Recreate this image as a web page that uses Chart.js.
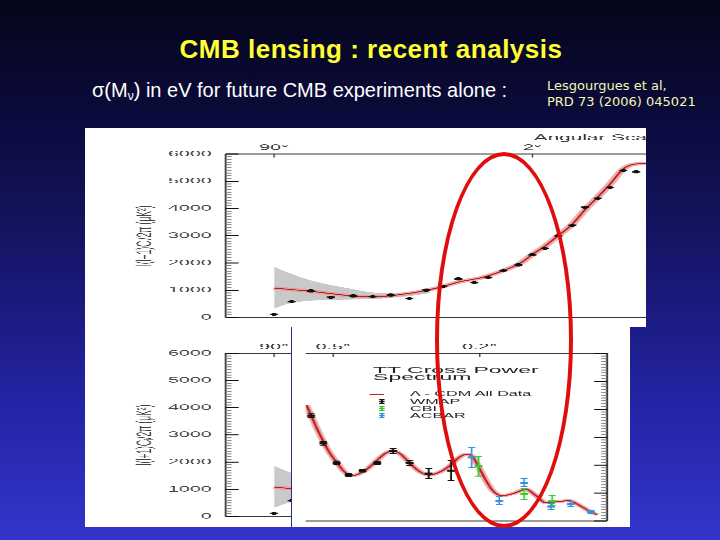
<!DOCTYPE html>
<html>
<head>
<meta charset="utf-8">
<script src="https://cdn.jsdelivr.net/npm/chart.js@4.4.1/dist/chart.umd.min.js"></script>
<style>
  html, body { margin: 0; padding: 0; }
  #slide { position: relative; width: 720px; height: 540px; overflow: hidden;
    background: linear-gradient(180deg, #05051a 0%, #0b0b3c 22%, #16166c 48%, #2424a6 75%, #3434cc 100%);
    font-family: 'Liberation Sans', Arial, sans-serif; }
  #title { position: absolute; left: 0; width: 742px; top: 34px; text-align: center; color: #ffff33;
    font-weight: bold; font-size: 26px; line-height: 30px; letter-spacing: 0.5px; white-space: nowrap; }
  #sub { position: absolute; left: 92px; top: 78px; color: #fff; font-size: 20px; line-height: 24px; white-space: nowrap; }
  #sub sub { font-size: 12px; vertical-align: -3px; }
  #ref { position: absolute; left: 547px; top: 78px; color: #f6f6b4; font-family: 'DejaVu Sans', sans-serif;
    font-size: 13px; line-height: 15.5px; white-space: nowrap; }
  .panel { position: absolute; background: #fff; overflow: hidden; }
  .stretch { position: absolute; left: 0; top: 0; transform: scaleX(2.45); transform-origin: 0 0; }
  #overlay { position: absolute; left: 206px; top: 0; width: 339px; height: 200px; background: #fff; overflow: hidden; }
  #bline { position: absolute; left: 206px; top: 0; width: 1px; height: 200px; background: #2c2c86; }
  #ellipse { position: absolute; left: 435px; top: 152px; width: 138px; height: 376px; box-sizing: border-box;
    border: 4px solid #e00d0d; border-radius: 50%; }
  .lg { position: absolute; font-family: 'Liberation Sans', Arial, sans-serif; color: #222; white-space: nowrap; }
  .lgTitle { font-size: 9.4px; line-height: 7.4px; }
  .lgText { font-size: 6.6px; line-height: 7.2px; }
</style>
</head>
<body>
<div id="slide">
  <div id="title">CMB lensing : recent analysis</div>
  <div id="sub">σ(M<sub>ν</sub>) in eV for future CMB experiments alone :</div>
  <div id="ref">Lesgourgues et al,<br>PRD 73 (2006) 045021</div>

  <div id="topPanel" class="panel" style="left:85px; top:128px; width:561px; height:199px;">
    <div class="stretch"><canvas id="c1" width="250" height="200"></canvas></div>
  </div>

  <div id="botPanel" class="panel" style="left:85px; top:327px; width:545px; height:200px;">
    <div class="stretch"><canvas id="c2" width="250" height="200"></canvas></div>
    <div id="overlay">
      <div class="stretch"><canvas id="c3" width="139" height="200"></canvas></div>
      <div class="stretch" id="legendBox" style="width:139px;height:200px;"></div>
    </div>
    <div id="bline"></div>
  </div>

  <div id="ellipse"></div>
</div>

<script>
// ---------------- data: low-l figure (top panel, also under the bottom panel) ----------------
const topTickVals = [12.1, 76.65];
const topTickLabels = ['90°', '2°'];
const yTickValues = [0, 1000, 2000, 3000, 4000, 5000, 6000];
const yTickLabels = ['0', '1000', '2000', '3000', '4000', '5000', '6000'];

const lowX = [12.1, 16.5, 21.3, 26.3, 31.9, 36.75, 41.25, 45.9, 50.1, 54.4, 58.15, 62.15, 65.65, 69.4, 73.15, 76.65, 79.8, 83.15, 86.65, 89.8, 93.0, 96.1, 99.4, 102.6];
const lowY = [115, 583, 977, 743, 792, 767, 826, 698, 1001, 1140, 1419, 1280, 1465, 1720, 1930, 2302, 2535, 3000, 3383, 4046, 4370, 4768, 5396, 5347];

const lowModelX = [12.1, 16.1, 21.1, 26.1, 31.1, 34.8, 38.6, 43.6, 48.6, 53.6, 58.6, 63.6, 68.6, 73.6, 76.8, 79.8, 83.1, 86.6, 89.8, 93.6, 96.1, 99.3, 101.8, 105, 108.6];
const lowModelY = [1081, 1030, 966, 880, 800, 765, 770, 840, 950, 1110, 1314, 1450, 1680, 1990, 2330, 2620, 3000, 3420, 3950, 4510, 4900, 5441, 5616, 5650, 5630];

const bandX = [12.1, 16.1, 21.1, 26.1, 31.1, 36.1, 41.1, 46.1, 51.1];
const bandHi = [1859, 1620, 1370, 1200, 1060, 930, 880, 900, 990];
const bandLo = [324, 520, 617, 640, 660, 673, 720, 790, 900];

// ---------------- data: TT cross power spectrum (overlay in bottom panel) ----------------
const ovTickVals = [7.2, 45.6];
const ovTickLabels = ['0.5°', '0.2°'];
const seriesNames = ['Λ - CDM All Data', 'WMAP', 'CBI', 'ACBAR'];
const seriesColors = ['#c42020', '#111111', '#2fd12f', '#3a8ee0'];

const wmapX = [1.4, 4.6, 8.1, 11.25, 14.9, 18.75, 22.9, 27.25, 32.25, 38.1];
const wmapY = [3771, 2777, 2085, 1652, 1803, 2074, 2506, 2074, 1698, 1803];
const wmapErr = [60, 60, 60, 50, 50, 60, 80, 100, 170, 350];

const cbiX = [45.3, 57.25, 64.6];
const cbiY = [1958, 960, 728];
const cbiErr = [350, 190, 180];

const acbarX = [43.5, 50.75, 57.25, 64.3, 69.5, 74.75];
const acbarY = [2274, 728, 1371, 517, 608, 316];
const acbarErr = [360, 140, 150, 110, 100, 60];

const modelX = [0.2, 1.4, 3.5, 6, 8.5, 10, 11.8, 13.5, 16, 18.75, 21, 22.9, 25, 27.25, 29.75, 32.25, 35.25, 38, 40.25, 42.25, 43.75, 45.25, 47.25, 49, 51.5, 54.75, 57.7, 60.25, 63, 66, 69, 72.25, 75.5, 76.5];
const modelY = [4148, 3780, 3150, 2500, 2030, 1780, 1627, 1660, 1850, 2180, 2430, 2506, 2380, 2074, 1780, 1641, 1760, 2000, 2280, 2390, 2300, 1958, 1450, 1090, 903, 1000, 1135, 920, 650, 690, 728, 520, 270, 230];

// ---------------- helpers ----------------
const FONT = "'Liberation Sans', Arial, sans-serif";
Chart.defaults.font.family = FONT;
const pts = (xs, ys) => xs.map((x, i) => ({ x, y: ys[i] }));

const frameTicks = {
  id: 'frameTicks',
  afterDatasetsDraw(chart, args, o) {
    const { ctx, chartArea: a, scales } = chart;
    const x = scales.x, y = scales.y;
    ctx.save();
    ctx.strokeStyle = '#3a3a3a';
    ctx.lineWidth = 1;
    ctx.beginPath();
    if (o.top) { ctx.moveTo(a.left, a.top); ctx.lineTo(a.right, a.top); }
    if (o.bottom) { ctx.moveTo(a.left, a.bottom); ctx.lineTo(a.right, a.bottom); }
    ctx.stroke();
    ctx.lineWidth = 0.8;
    ctx.beginPath();
    if (o.left) { ctx.moveTo(a.left, a.top); ctx.lineTo(a.left, a.bottom); }
    if (o.right) { ctx.moveTo(a.right, a.top); ctx.lineTo(a.right, a.bottom); }
    ctx.stroke();
    const side = o.ySide;
    y.ticks.forEach(t => {
      const py = y.getPixelForValue(t.value);
      const major = yTickValues.includes(t.value);
      const len = major ? 5.3 : 2.4;
      ctx.strokeStyle = major ? '#111' : '#8a8a8a';
      ctx.lineWidth = 1;
      ctx.beginPath();
      if (side === 'left') { ctx.moveTo(a.left, py); ctx.lineTo(a.left + len, py); }
      else { ctx.moveTo(a.right, py); ctx.lineTo(a.right - len, py); }
      ctx.stroke();
    });
    ctx.strokeStyle = '#222';
    ctx.lineWidth = 0.5;
    x.ticks.forEach(t => {
      const px = x.getPixelForValue(t.value);
      ctx.beginPath(); ctx.moveTo(px, a.top); ctx.lineTo(px, a.top + 3.5); ctx.stroke();
    });
    ctx.restore();
  }
};

const errorBars = {
  id: 'errorBars',
  afterDatasetsDraw(chart) {
    const { ctx, scales: { x, y } } = chart;
    chart.data.datasets.forEach(ds => {
      if (!ds.errs) return;
      ctx.save();
      ctx.strokeStyle = ds.borderColor;
      ds.data.forEach((p, i) => {
        const e = ds.errs[i];
        const px = x.getPixelForValue(p.x);
        const y1 = y.getPixelForValue(p.y - e), y2 = y.getPixelForValue(p.y + e);
        ctx.lineWidth = 0.7;
        ctx.beginPath(); ctx.moveTo(px, y1); ctx.lineTo(px, y2); ctx.stroke();
        ctx.lineWidth = 1;
        ctx.beginPath();
        ctx.moveTo(px - 1.4, y1); ctx.lineTo(px + 1.4, y1);
        ctx.moveTo(px - 1.4, y2); ctx.lineTo(px + 1.4, y2);
        ctx.stroke();
      });
      ctx.restore();
    });
  }
};

function yLabel(v) {
  const k = yTickValues.indexOf(v);
  return k >= 0 ? yTickLabels[k] : '';
}

function makeLowChart(id, topH, padBottom) {
  return new Chart(document.getElementById(id), {
    type: 'line',
    data: {
      datasets: [
        { label: 'WMAP', data: pts(lowX, lowY), showLine: false, pointStyle: 'cross',
          pointRadius: 1.6, pointBorderWidth: 1.6, pointBorderColor: '#111', pointBackgroundColor: '#111' },
        { label: 'model', data: pts(lowModelX, lowModelY), borderColor: '#c41a1a', borderWidth: 0.9,
          pointRadius: 0, cubicInterpolationMode: 'monotone', fill: false },
        { label: 'model band', data: pts(lowModelX, lowModelY), borderColor: 'rgba(226,150,150,0.75)', borderWidth: 3.5,
          pointRadius: 0, cubicInterpolationMode: 'monotone', fill: false },
        { label: 'cosmic variance hi', data: pts(bandX, bandHi), borderWidth: 0, pointRadius: 0,
          backgroundColor: '#c9c9c9', fill: '+1', tension: 0.3 },
        { label: 'cosmic variance lo', data: pts(bandX, bandLo), borderWidth: 0, pointRadius: 0,
          fill: false, tension: 0.3 }
      ]
    },
    options: {
      responsive: false, animation: false, devicePixelRatio: 3,
      layout: { padding: { left: 0, right: 9.7, top: 0, bottom: padBottom } },
      plugins: { legend: { display: false }, tooltip: { enabled: false },
        frameTicks: { top: true, bottom: true, left: true, right: false, ySide: 'left' } },
      scales: {
        x: { type: 'linear', position: 'top', min: 0, max: 112,
          grid: { display: false, drawTicks: false }, border: { display: false },
          afterBuildTicks: ax => { ax.ticks = topTickVals.map(v => ({ value: v })); },
          afterFit: ax => { ax.height = topH; },
          ticks: { autoSkip: false, maxRotation: 0, padding: 1.5, color: '#333', font: { size: 8 },
            callback: (v, i) => topTickLabels[i] },
          title: { display: true, text: 'Angular Scale\u2002', align: 'end', color: '#333', font: { size: 8.5 },
            padding: { top: 5, bottom: 0 } } },
        y: { type: 'linear', position: 'left', min: 0, max: 6000,
          grid: { display: false, drawTicks: false }, border: { display: false },
          afterFit: ax => { ax.width = 57.4; },
          ticks: { stepSize: 100, autoSkip: false, padding: 5.7, color: '#444', font: { size: 8 }, callback: yLabel },
          title: { display: true, text: 'l(l+1)Cₗ/2π (μK²)', color: '#444', font: { size: 8.5 },
            padding: { top: 19.5, bottom: 0 } } }
      }
    },
    plugins: [frameTicks]
  });
}

makeLowChart('c1', 26, 2);
makeLowChart('c2', 26.3, 3);

new Chart(document.getElementById('c3'), {
  type: 'line',
  data: {
    datasets: [
      { label: seriesNames[1], data: pts(wmapX, wmapY), errs: wmapErr, showLine: false, pointStyle: 'line',
        pointRadius: 1.6, pointBorderWidth: 2, borderColor: seriesColors[1], pointBorderColor: seriesColors[1] },
      { label: seriesNames[2], data: pts(cbiX, cbiY), errs: cbiErr, showLine: false, pointStyle: 'line',
        pointRadius: 1.6, pointBorderWidth: 2, borderColor: seriesColors[2], pointBorderColor: seriesColors[2] },
      { label: seriesNames[3], data: pts(acbarX, acbarY), errs: acbarErr, showLine: false, pointStyle: 'line',
        pointRadius: 1.6, pointBorderWidth: 2, borderColor: seriesColors[3], pointBorderColor: seriesColors[3] },
      { label: seriesNames[0], data: pts(modelX, modelY), borderColor: seriesColors[0], borderWidth: 1,
        pointRadius: 0, cubicInterpolationMode: 'monotone', fill: false },
      { label: 'halo', data: pts(modelX, modelY), borderColor: 'rgba(226,140,140,0.7)', borderWidth: 3,
        pointRadius: 0, cubicInterpolationMode: 'monotone', fill: false }
    ]
  },
  options: {
    responsive: false, animation: false, devicePixelRatio: 3,
    layout: { padding: { left: 0, right: 10, top: 0, bottom: 3 } },
    plugins: { legend: { display: false }, tooltip: { enabled: false },
      frameTicks: { top: true, bottom: true, left: false, right: true, ySide: 'right' } },
    scales: {
      x: { type: 'linear', position: 'top', min: 0, max: 79,
        grid: { display: false, drawTicks: false }, border: { display: false },
        afterBuildTicks: ax => { ax.ticks = ovTickVals.map(v => ({ value: v })); },
        afterFit: ax => { ax.height = 26.3; },
        ticks: { autoSkip: false, maxRotation: 0, padding: 1.5, color: '#333', font: { size: 8 },
          callback: (v, i) => ovTickLabels[i] } },
      y: { type: 'linear', position: 'right', min: 0, max: 6000,
        grid: { display: false, drawTicks: false }, border: { display: false },
        afterFit: ax => { ax.width = 0; },
        ticks: { stepSize: 100, autoSkip: false, display: false } }
    }
  },
  plugins: [frameTicks, errorBars]
});

// ---------------- legend (HTML, inside the stretched overlay) ----------------
(function buildLegend() {
  const box = document.getElementById('legendBox');
  const t = document.createElement('div');
  t.className = 'lg lgTitle';
  t.style.left = '33.5px'; t.style.top = '39px';
  t.innerHTML = 'TT Cross Power<br>Spectrum';
  box.appendChild(t);
  const rowY = [67, 74.2, 81.4, 88.6];
  seriesNames.forEach((name, i) => {
    const c = seriesColors[i];
    let icon;
    if (i === 0) {
      icon = document.createElement('div');
      icon.style.cssText = `position:absolute;left:32.2px;top:${rowY[i]}px;width:6.2px;height:0;border-top:1px solid ${c};`;
    } else {
      icon = document.createElementNS('http://www.w3.org/2000/svg', 'svg');
      icon.setAttribute('width', '2.2'); icon.setAttribute('height', '5');
      icon.setAttribute('viewBox', '0 0 2.2 5');
      icon.style.cssText = `position:absolute;left:35.9px;top:${rowY[i] - 2.5}px;overflow:visible;`;
      icon.innerHTML = `<path d="M0 0.5H2.2M0 4.5H2.2M1.1 0.5V4.5" stroke="${c}" stroke-width="0.8" fill="none"/>` +
        `<path d="M0 2.5H2.2" stroke="${c}" stroke-width="1.4"/>`;
    }
    box.appendChild(icon);
    const tx = document.createElement('div');
    tx.className = 'lg lgText';
    tx.style.left = '48.6px'; tx.style.top = (rowY[i] - 3.6) + 'px';
    tx.textContent = name;
    box.appendChild(tx);
  });
})();
</script>
</body>
</html>
